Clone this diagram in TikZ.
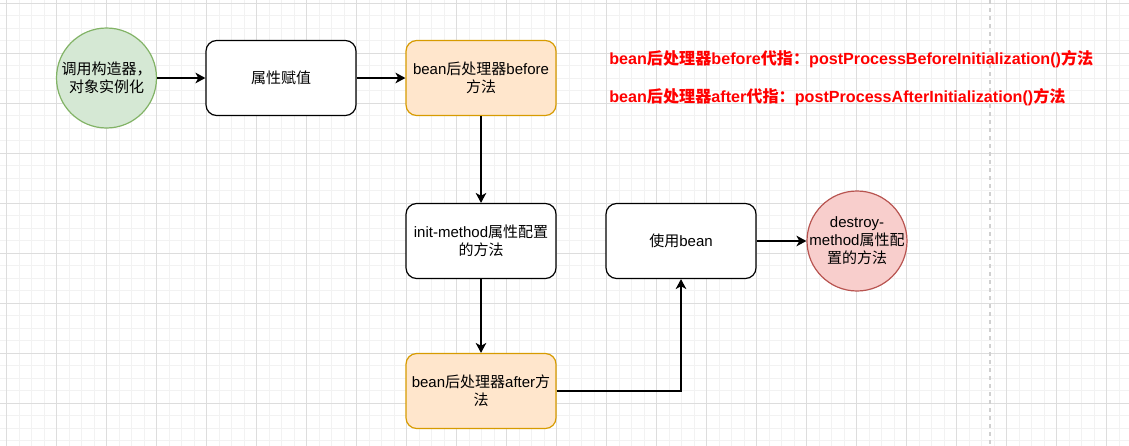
\documentclass[tikz,border=0pt]{standalone}
\usepackage{fontspec}
\setmainfont{Liberation Sans}
\newfontfamily\cjk{Noto Sans CJK SC}
\newcommand\zh[1]{{\cjk #1}}
\usetikzlibrary{arrows.meta}

\definecolor{gridminor}{HTML}{F2F2F2}
\definecolor{gridmajor}{HTML}{DDDDDD}
\definecolor{greenfill}{HTML}{D5E8D4}
\definecolor{greenline}{HTML}{82B366}
\definecolor{orangefill}{HTML}{FFE6CC}
\definecolor{orangeline}{HTML}{D79B00}
\definecolor{redfill}{HTML}{F8CECC}
\definecolor{redline}{HTML}{B85450}
\definecolor{notered}{HTML}{FF0000}

\tikzset{
  minorline/.style={gridminor, line width=0.75pt},
  majorline/.style={gridmajor, line width=0.75pt},
  label font/.style={font=\fontsize{11.25pt}{13.5pt}\selectfont},
  stepbox/.style={draw=black, fill=white, line width=0.9pt, rounded corners=8pt,
    minimum width=112.5pt, minimum height=56.25pt, align=center, inner sep=2pt, label font},
  warmbox/.style={stepbox, fill=orangefill, draw=orangeline},
  roundnode/.style={circle, line width=0.9pt, minimum size=75pt, inner sep=0pt},
  roundtext/.style={align=center, inner sep=0pt, label font},
  flow/.style={line width=0.9pt, -{Stealth[length=7.5pt, width=8pt, inset=2.2pt]}},
  note/.style={anchor=west, text=notered, inner sep=0pt,
    font=\fontsize{12.1pt}{14pt}\selectfont\bfseries},
}

\begin{document}
\begin{tikzpicture}[x=0.75pt, y=-0.75pt]
\useasboundingbox (0,0) rectangle (1129,446);
\fill[white] (0,0) rectangle (1129,446);

% background grid
\foreach \i in {0,...,90} \draw[minorline] ({6.7+12.5*\i},0) -- ({6.7+12.5*\i},446);
\foreach \i in {0,...,36} \draw[minorline] (0,{3.3+12.5*\i}) -- (1129,{3.3+12.5*\i});
\foreach \i in {0,...,22} \draw[majorline] ({6.7+50*\i},0) -- ({6.7+50*\i},446);
\foreach \i in {0,...,9} \draw[majorline] (0,{3.3+50*\i}) -- (1129,{3.3+50*\i});

% page break marker
\draw[color=gridmajor!80!black!60, line width=1.1pt, dash pattern=on 3pt off 3pt] (990,0) -- (990,446);

% steps
\node[roundnode, fill=greenfill, draw=greenline] (ctor) at (106.5,78) {};
\node[roundtext] (ctorText) at (ctor.center) {\zh{调用构造器，}\\\zh{对象实例化}};
\node[stepbox] (assign) at (281,78) {\zh{属性赋值}};
\node[warmbox] (before) at (481,78) {bean\zh{后处理器}before\\\zh{方法}};
\node[stepbox] (init) at (481,241) {init-method\zh{属性配置}\\\zh{的方法}};
\node[warmbox] (after) at (481,391) {bean\zh{后处理器}after\zh{方}\\\zh{法}};
\node[stepbox] (use) at (681,241) {\zh{使用}bean};
\node[roundnode, fill=redfill, draw=redline] (destroy) at (857,241) {};
\node[roundtext] (destroyText) at (destroy.center) {destroy-\\method\zh{属性配}\\\zh{置的方法}};

% notes
\node[note] (noteA) at (609,59) {bean\zh{后处理器}before\zh{代指：}postProcessBeforeInitialization()\zh{方法}};
\node[note] (noteB) at (609,97) {bean\zh{后处理器}after\zh{代指：}postProcessAfterInitialization()\zh{方法}};

% connectors
\draw[flow] (ctor) -- (assign);
\draw[flow] (assign) -- (before);
\draw[flow] (before) -- (init);
\draw[flow] (init) -- (after);
\draw[flow] (after.east) -| (use.south);
\draw[flow] (use) -- (destroy);
\end{tikzpicture}
\end{document}
